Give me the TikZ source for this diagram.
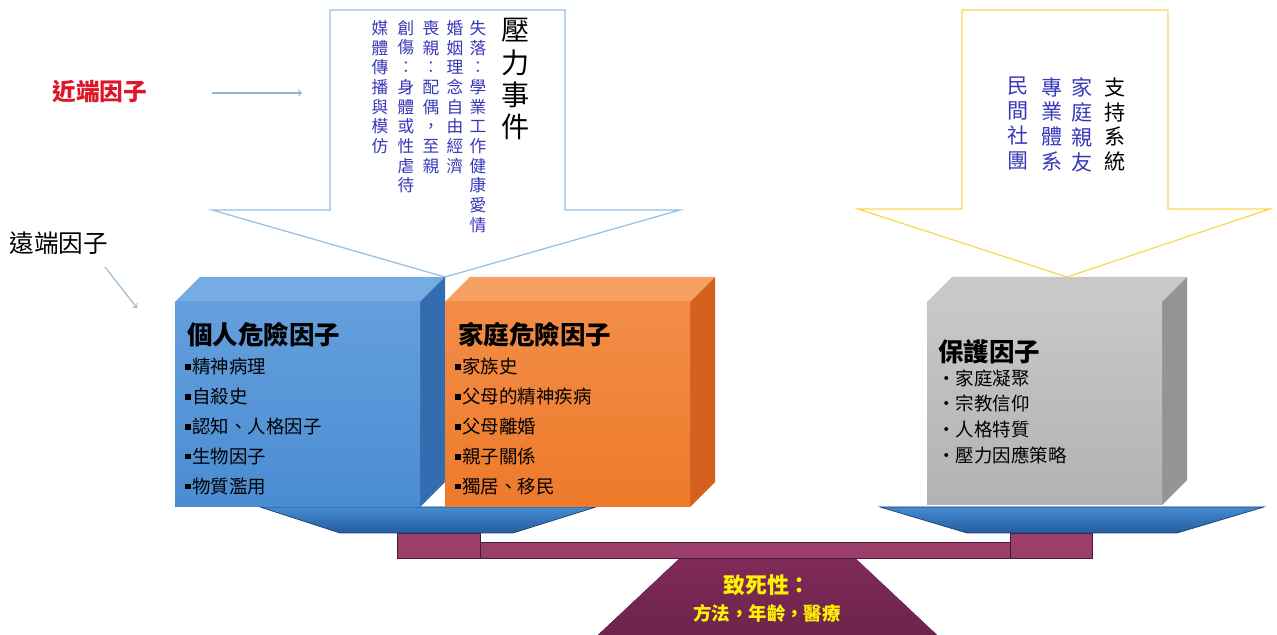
\documentclass[tikz,border=0pt]{standalone}
\usepackage{fontspec}
\setmainfont{Noto Sans CJK TC}
\usepackage{tikz}
\usetikzlibrary{arrows}
\definecolor{blueT}{RGB}{118,172,228}
\definecolor{blueF}{RGB}{74,140,210}
\definecolor{blueS}{RGB}{52,108,176}
\definecolor{orangeT}{RGB}{246,160,100}
\definecolor{orangeF}{RGB}{238,122,42}
\definecolor{orangeS}{RGB}{212,98,30}
\definecolor{grayT}{RGB}{200,200,200}
\definecolor{grayF}{RGB}{178,178,178}
\definecolor{grayS}{RGB}{148,148,148}
\definecolor{trayF}{RGB}{70,140,208}
\definecolor{trayD}{RGB}{36,92,160}
\definecolor{beamF}{RGB}{156,62,108}
\definecolor{standF}{RGB}{128,42,88}
\definecolor{colText}{RGB}{56,56,186}
\definecolor{arrowBlue}{RGB}{150,190,232}
\definecolor{arrowYellow}{RGB}{250,215,80}
\definecolor{redText}{RGB}{222,22,40}
\newcommand{\sqb}{\rule[0.22em]{0.3em}{0.3em}\hspace{0.08em}}
\tikzstyle{bigarrow} = [fill=white, line width=0.7pt, line join=miter]
\tikzstyle{tray} = [top color=trayF, bottom color=trayD, draw=trayD!70!black, line width=0.4pt]
\tikzstyle{beam} = [fill=beamF, draw=beamF!45!black, line width=0.5pt]
\tikzstyle{colblue} = [text=colText, inner sep=0pt, anchor=north, text width=1.2em, align=center, font=\fontsize{9.5}{11.2}\selectfont]
\tikzstyle{colbig} = [inner sep=0pt, anchor=north, text width=1.2em, align=center, font=\fontsize{16}{18.4}\selectfont]
\tikzstyle{colsup} = [inner sep=0pt, anchor=north, text width=1.2em, align=center, font=\fontsize{12}{14.2}\selectfont]
\tikzstyle{boxtitle} = [inner sep=0pt, anchor=west, font=\fontsize{14.5}{17}\selectfont\bfseries]
\tikzstyle{boxlist} = [inner sep=0pt, anchor=north west, align=left, font=\fontsize{10.5}{17}\selectfont]
\tikzstyle{line} = [draw, arrowBlue!80!gray, line width=0.6pt, ->]

\begin{document}
\begin{tikzpicture}[x=0.2mm, y=-0.2mm]
\useasboundingbox (0,0) rectangle (1277,635);

% big arrows
\draw [bigarrow, draw=arrowBlue] (330,10) -- (565,10) -- (565,210) -- (680,210) -- (445,277) -- (212,210) -- (330,210) -- cycle;
\draw [bigarrow, draw=arrowYellow] (962,10) -- (1168,10) -- (1168,209) -- (1270,209) -- (1067,277) -- (858,209) -- (962,209) -- cycle;

\node [colbig] at (512,18) (stress) {壓\\力\\事\\件};
\node [colblue] at (478,20) (loss) {失\\落\\︰\\學\\業\\工\\作\\健\\康\\愛\\情};
\node [colblue] at (455,20) (marriage) {婚\\姻\\理\\念\\自\\由\\經\\濟};
\node [colblue] at (431,20) (bereave) {喪\\親\\︰\\配\\偶\\，\\至\\親};
\node [colblue] at (406,20) (trauma) {創\\傷\\︰\\身\\體\\或\\性\\虐\\待};
\node [colblue] at (380,20) (media) {媒\\體\\傳\\播\\與\\模\\仿};

\node [colsup] at (1115,77) (support) {支\\持\\系\\統};
\node [colsup, text=colText] at (1082,77) (family) {家\\庭\\親\\友};
\node [colsup, text=colText] at (1052,77) (profession) {專\\業\\體\\系};
\node [colsup, text=colText] at (1018,77) (civil) {民\\間\\社\\團};

% labels on the left
\node [text=redText, inner sep=0pt, font=\fontsize{13.5}{16}\selectfont\bfseries] at (100,92) (near) {近端因子};
\node [inner sep=0pt, font=\fontsize{14}{16}\selectfont] at (59,243) (far) {遠端因子};
\coordinate (nearA) at (212,93);
\coordinate (nearB) at (302,93);
\coordinate (farA) at (105,267);
\coordinate (farB) at (137,308);
\path [line] (nearA) to (nearB);
\path [line] (farA) to (farB);

% balance
\fill [top color=standF, bottom color=standF!85!black] (680,558) -- (855,558) -- (937,635) -- (598,635) -- cycle;
\draw [beam] (397,542) rectangle (1092,558);
\draw [beam] (397,533) rectangle (480,558);
\draw [beam] (1010,533) rectangle (1092,558);
\draw [tray] (260,507) -- (596,507) -- (513,533) -- (340,533) -- cycle;
\draw [tray] (880,507) -- (1264,507) -- (1177,533) -- (967,533) -- cycle;
\node [text=yellow, inner sep=0pt, font=\fontsize{12.5}{14}\selectfont\bfseries] at (767,585) (lethal) {致死性：};
\node [text=yellow, inner sep=0pt, font=\fontsize{10.5}{12}\selectfont\bfseries] at (767,613) (lethalList) {方法，年齡，醫療};

% personal risk box
\fill [blueT] (175,302) -- (200,277) -- (445,277) -- (420,302) -- cycle;
\fill [blueS] (420,302) -- (445,277) -- (445,482) -- (420,507) -- cycle;
\fill [top color=blueT!60!blueF, bottom color=blueF] (175,302) rectangle (420,507);
\node [boxtitle] at (187,335) (personal) {個人危險因子};
\node [boxlist] at (185,358) (personalList) {\sqb 精神病理\\\sqb 自殺史\\\sqb 認知、人格因子\\\sqb 生物因子\\\sqb 物質濫用};

% family risk box
\fill [orangeT] (445,302) -- (470,277) -- (715,277) -- (690,302) -- cycle;
\fill [orangeS] (690,302) -- (715,277) -- (715,482) -- (690,507) -- cycle;
\fill [top color=orangeT!50!orangeF, bottom color=orangeF] (445,302) rectangle (690,507);
\node [boxtitle] at (458,335) (familyRisk) {家庭危險因子};
\node [boxlist] at (455,358) (familyList) {\sqb 家族史\\\sqb 父母的精神疾病\\\sqb 父母離婚\\\sqb 親子關係\\\sqb 獨居、移民};

% protective box
\fill [grayT] (927,302) -- (952,277) -- (1187,277) -- (1162,302) -- cycle;
\fill [grayS] (1162,302) -- (1187,277) -- (1187,480) -- (1162,505) -- cycle;
\fill [top color=grayT, bottom color=grayF] (927,302) rectangle (1162,505);
\node [boxtitle] at (938,352) (protect) {保護因子};
\node [boxlist, font=\fontsize{10.5}{14.7}\selectfont] at (937,369) (protectList) {・家庭凝聚\\・宗教信仰\\・人格特質\\・壓力因應策略};

\end{tikzpicture}
\end{document}
